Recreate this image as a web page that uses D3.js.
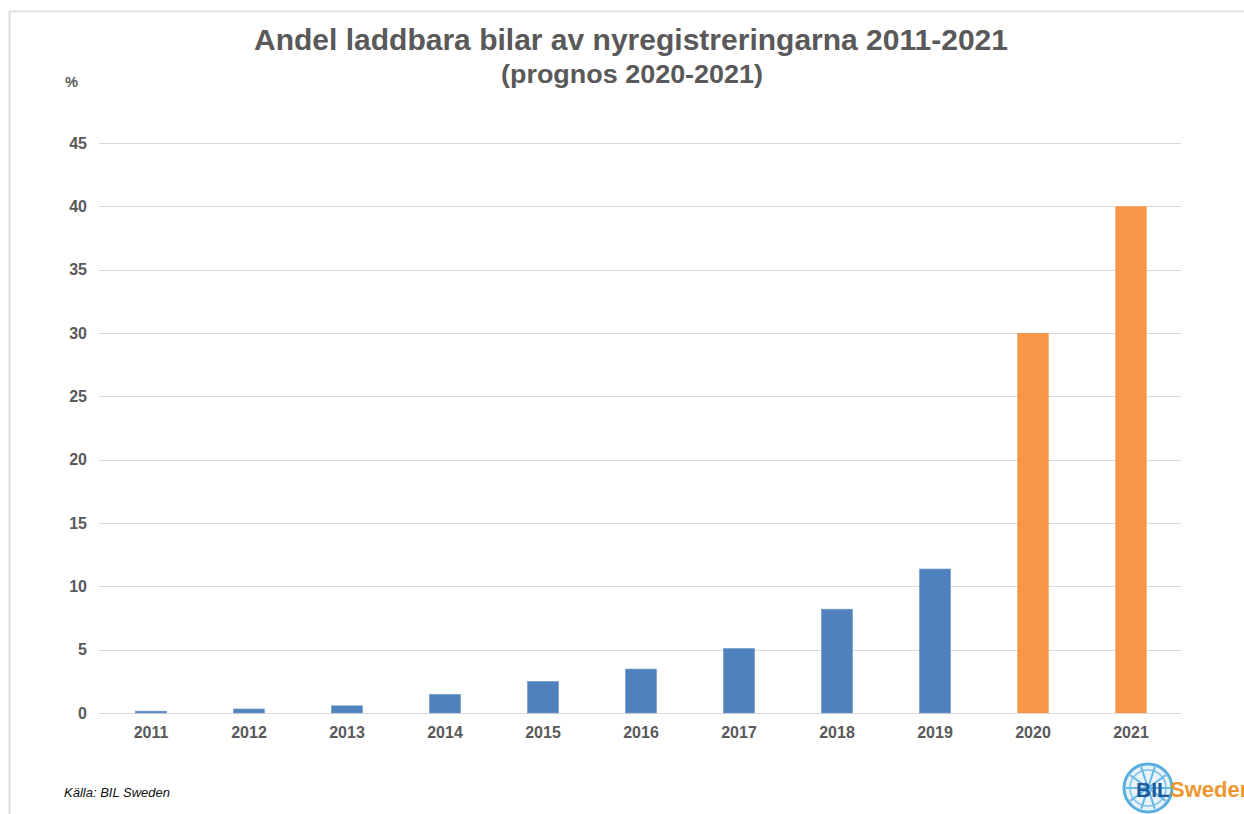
<!DOCTYPE html>
<html>
<head>
<meta charset="utf-8">
<script src="https://cdn.jsdelivr.net/npm/d3@7"></script>
<style>
  body { margin: 0; background: #fff; }
  text { font-family: "Liberation Sans", Arial, sans-serif; }
</style>
</head>
<body>
<div class="chartWrap"></div>
<script>
// Data
const years = ["2011", "2012", "2013", "2014", "2015", "2016", "2017", "2018", "2019", "2020", "2021"];
const shares = [0.15, 0.32, 0.57, 1.48, 2.5, 3.47, 5.1, 8.2, 11.37, 30, 40];
const forecastYears = ["2020", "2021"];
const yTicks = [0, 5, 10, 15, 20, 25, 30, 35, 40, 45];

const width = 1244, height = 814;
const grey = "#595959";

let svg = d3.select(".chartWrap").append("svg").attr("width", width).attr("height", height);

// frame lines top / left
svg.append("line").attr("x1", 9).attr("x2", width).attr("y1", 11.5).attr("y2", 11.5)
  .attr("stroke", "#e3e3e3").attr("stroke-width", 2);
svg.append("line").attr("x1", 9.5).attr("x2", 9.5).attr("y1", 11).attr("y2", height)
  .attr("stroke", "#dcdcdc").attr("stroke-width", 2);

let x = d3.scaleBand().domain(years).range([102, 1180]).paddingInner(0.68).paddingOuter(0.34);
let y = d3.scaleLinear().domain([0, 45]).range([713, 143]);

// gridlines + y labels
let yAxis = d3.axisLeft(y).tickValues(yTicks).tickSize(-(1181 - 99)).tickPadding(12);
let gy = svg.append("g").attr("transform", "translate(99,0)").call(yAxis);
gy.select(".domain").remove();
gy.selectAll(".tick line").attr("stroke", "#d9d9d9").attr("shape-rendering", "crispEdges");
gy.selectAll(".tick text").attr("fill", grey).attr("font-size", 16).attr("font-weight", "bold")
  .attr("font-family", "Liberation Sans, Arial, sans-serif");

// bars
svg.selectAll("rect.bar").data(years).enter().append("rect")
  .attr("class", "bar")
  .attr("x", d => x(d))
  .attr("width", x.bandwidth())
  .attr("y", (d, i) => y(shares[i]))
  .attr("height", (d, i) => y(0) - y(shares[i]))
  .attr("fill", d => forecastYears.includes(d) ? "#F79646" : "#4F81BD")
  .attr("stroke", d => forecastYears.includes(d) ? "none" : "#7fa3d1")
  .attr("stroke-width", 0.6);

// x axis labels
let xAxis = d3.axisBottom(x).tickSize(0).tickPadding(14);
let gx = svg.append("g").attr("transform", "translate(0,713)").call(xAxis);
gx.select(".domain").remove();
gx.selectAll(".tick text").attr("fill", grey).attr("font-size", 16).attr("font-weight", "bold")
  .attr("font-family", "Liberation Sans, Arial, sans-serif");

// titles
svg.append("text").text("Andel laddbara bilar av nyregistreringarna 2011-2021")
  .attr("x", 631).attr("y", 50).attr("text-anchor", "middle")
  .attr("font-size", 29).attr("font-weight", "bold").attr("fill", grey)
  .attr("textLength", 754).attr("lengthAdjust", "spacingAndGlyphs");
svg.append("text").text("(prognos 2020-2021)")
  .attr("x", 632).attr("y", 83).attr("text-anchor", "middle")
  .attr("font-size", 26).attr("font-weight", "bold").attr("fill", grey)
  .attr("textLength", 262).attr("lengthAdjust", "spacingAndGlyphs");
svg.append("text").text("%").attr("x", 65).attr("y", 87)
  .attr("font-size", 15).attr("font-weight", "bold").attr("fill", grey)
  .attr("textLength", 13).attr("lengthAdjust", "spacingAndGlyphs");

// source
svg.append("text").text("Källa: BIL Sweden").attr("x", 64).attr("y", 797)
  .attr("font-size", 13).attr("font-style", "italic").attr("fill", "#111");

// logo
let logo = svg.append("g").attr("transform", "translate(1148,788)");
logo.append("circle").attr("r", 24).attr("fill", "#e8f3fb").attr("stroke", "#5aaee0").attr("stroke-width", 3);
logo.append("circle").attr("r", 18).attr("fill", "none").attr("stroke", "#7cc0e8").attr("stroke-width", 1.5);
d3.range(10).forEach(function(i) {
  let a = i * Math.PI / 5;
  logo.append("line").attr("x1", 0).attr("y1", 0)
    .attr("x2", 22 * Math.cos(a)).attr("y2", 22 * Math.sin(a))
    .attr("stroke", "#6ab8e4").attr("stroke-width", 2);
});
svg.append("text").text("BIL").attr("x", 1136).attr("y", 797)
  .attr("font-size", 21).attr("font-weight", "bold").attr("fill", "#1a5a9a");
svg.append("text").text("Sweden").attr("x", 1170).attr("y", 797)
  .attr("font-size", 22).attr("font-weight", "bold").attr("fill", "#f0962e");
</script>
</body>
</html>
